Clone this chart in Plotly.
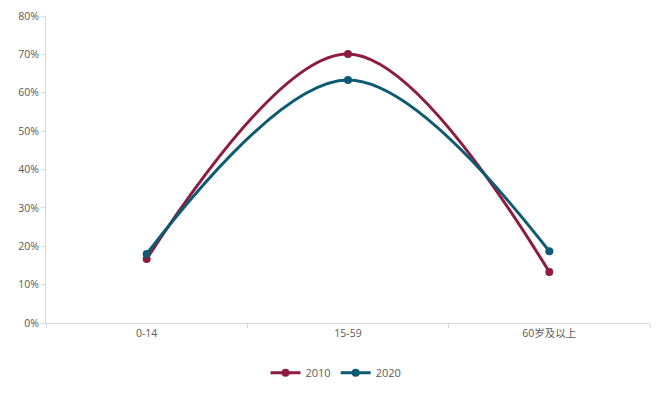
import plotly.graph_objects as go

categories = ["0-14", "15-59", "60岁及以上"]
values_2010 = [0.167, 0.701, 0.133]
values_2020 = [0.180, 0.633, 0.187]
y_ticks = [0, 0.1, 0.2, 0.3, 0.4, 0.5, 0.6, 0.7, 0.8]

fig = go.Figure()
fig.add_trace(go.Scatter(x=categories, y=values_2010, name="2010", mode="lines+markers",
                         line=dict(color="#8C1C40", width=3, shape="spline", smoothing=1.0),
                         marker=dict(size=8, color="#8C1C40")))
fig.add_trace(go.Scatter(x=categories, y=values_2020, name="2020", mode="lines+markers",
                         line=dict(color="#0F5A73", width=3, shape="spline", smoothing=1.0),
                         marker=dict(size=8, color="#0F5A73")))

fig.update_layout(
    width=656, height=380,
    margin=dict(l=38, r=14, t=8, b=65),
    paper_bgcolor="white", plot_bgcolor="white",
    font=dict(family="Open Sans, Noto Sans CJK SC", size=10.5, color="#595959"),
    showlegend=True,
    legend=dict(orientation="h", x=0.5, xanchor="center", xref="container",
                y=0.04, yanchor="middle", yref="container",
                font=dict(size=11, color="#595959")),
    xaxis=dict(type="category", range=[-0.5, 2.5], showline=True, linecolor="#D9D9D9",
               linewidth=1, ticks="outside", tickson="boundaries", ticklen=4,
               tickcolor="#D9D9D9", showgrid=False, zeroline=False, automargin=False),
    yaxis=dict(range=[0, 0.8], tickvals=y_ticks, tickformat=".0%", showline=True,
               linecolor="#D9D9D9", linewidth=1, ticks="outside", ticklen=4,
               tickcolor="#D9D9D9", showgrid=False, zeroline=False, automargin=False),
)
fig.write_html("out.html")
